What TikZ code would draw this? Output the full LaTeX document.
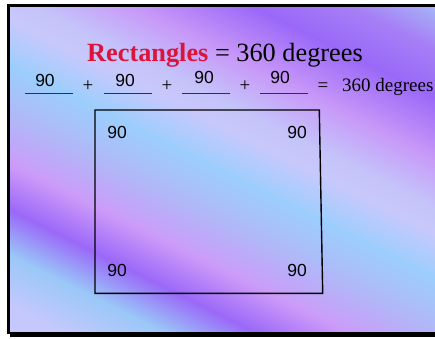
\documentclass[tikz,border=0pt]{standalone}
\usepackage{fontspec}
\setmainfont{Liberation Serif}
\newfontfamily\arialfont{Liberation Sans}
\definecolor{titlered}{HTML}{DC143C}
\definecolor{bgA}{HTML}{A6D2F8}
\definecolor{bgB}{HTML}{A680F6}
\definecolor{bgC}{HTML}{9A68F8}
\definecolor{bgD}{HTML}{C898F8}
\definecolor{bgE}{HTML}{C4C4FA}
\definecolor{bgF}{HTML}{C8C8FC}
\definecolor{bgG}{HTML}{9CCEFC}
\definecolor{bgH}{HTML}{B0B8F8}
\definecolor{bgI}{HTML}{CC9AF8}
\definecolor{bgJ}{HTML}{9A68F8}
\definecolor{bgK}{HTML}{9AC8F8}
\definecolor{bgL}{HTML}{C4C8FC}
\newcommand\bgseg[4]{\shade[top color=#3, bottom color=#4] (-60,{-0.8944*(#1)+0.4}) rectangle (620,{-0.8944*(#2)-0.4});}
\begin{document}
\begin{tikzpicture}[x=1pt,y=1pt,
  num/.style={font=\arialfont\fontsize{17.5}{20}\selectfont, inner sep=0pt, anchor=base},
  eqtxt/.style={font=\fontsize{19}{22}\selectfont, inner sep=0pt, anchor=base},
  blank/.style={line width=0.9pt, black!80},
  ]
\useasboundingbox (0,0) rectangle (435,-338);
\fill[white] (0,0) rectangle (435,-338);
\begin{scope}
  \clip (9,-6) rectangle (436,-332);
  \begin{scope}[transform canvas={rotate=-26.565}]
    \bgseg{-235}{-170}{bgA}{bgB}
    \bgseg{-170}{-120}{bgB}{bgC}
    \bgseg{-120}{-60}{bgC}{bgD}
    \bgseg{-60}{-10}{bgD}{bgE}
    \bgseg{-10}{15}{bgE}{bgF}
    \bgseg{15}{60}{bgF}{bgG}
    \bgseg{60}{110}{bgG}{bgH}
    \bgseg{110}{160}{bgH}{bgI}
    \bgseg{160}{205}{bgI}{bgJ}
    \bgseg{205}{250}{bgJ}{bgK}
    \bgseg{250}{300}{bgK}{bgL}
    \bgseg{300}{350}{bgL}{bgF}
  \end{scope}
\end{scope}
% frame
\draw[line width=2.5pt] (8.3,-5.3) rectangle (445,-333);
\fill[black] (9.5,-333) rectangle (445,-337.3);
% title
\node[anchor=base west, inner sep=0pt, font=\fontsize{26.3}{30}\selectfont] (title) at (87,-61.7)
  {\textcolor{titlered}{\bfseries Rectangles} = 360 degrees};
% equation row
\node[num] (n1) at (45,-86) {90};
\node[num] (n2) at (125,-86) {90};
\node[num] (n3) at (204,-83.3) {90};
\node[num] (n4) at (280,-83.3) {90};
\draw[blank] (25,-93.3) -- (73,-93.3);
\draw[blank] (103.5,-93.3) -- (152,-93.3);
\draw[blank] (182,-93.3) -- (230,-93.3);
\draw[blank] (260,-93.3) -- (308,-93.3);
\node[eqtxt] (p1) at (88,-91.7) {+};
\node[eqtxt] (p2) at (167,-91.7) {+};
\node[eqtxt] (p3) at (245,-91.7) {+};
\node[eqtxt] (eq) at (323,-91.7) {=};
\node[eqtxt, anchor=base west] (res) at (342,-91.7) {360 degrees};
% rectangle
\draw[line width=1.4pt] (95,-110) -- (319.3,-110) -- (322.7,-293.3) -- (95,-293.3) -- cycle;
\node[num] (r1) at (117,-138.7) {90};
\node[num] (r2) at (297,-138.7) {90};
\node[num] (r3) at (117,-276.7) {90};
\node[num] (r4) at (297,-276.7) {90};
\end{tikzpicture}
\end{document}
